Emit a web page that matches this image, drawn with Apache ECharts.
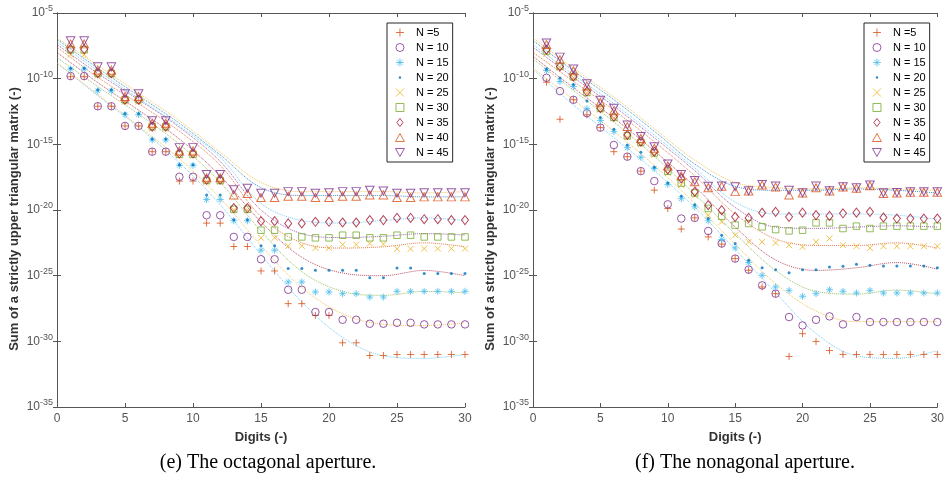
<!DOCTYPE html>
<html><head><meta charset="utf-8">
<script src="https://cdn.jsdelivr.net/npm/echarts@6/dist/echarts.min.js"></script>
<style>html,body{margin:0;padding:0;background:#fff}#c{width:947px;height:484px}</style>
</head><body><div id="c"></div>
<script>
// ---------------- data (values are log10 of the plotted quantity) ----------------
const digits = [1,2,3,4,5,6,7,8,9,10,11,12,13,14,15,16,17,18,19,20,21,22,23,24,25,26,27,28,29,30];
const fitX = [0,3,6,9,12,15,18,21,24,27,30];
const xTickStep = 5;
const yTickExponents = [-35,-30,-25,-20,-15,-10,-5];
const legendNames = ['N =5','N = 10','N = 15','N = 20','N = 25','N = 30','N = 35','N = 40','N = 45'];
const captions = ['(e) The octagonal aperture.','(f) The nonagonal aperture.'];
const yAxisTitle = 'Sum of a strictly upper triangular matrix (-)';
const xAxisTitle = 'Digits (-)';

// (e) octagonal aperture
const octN5  = [-9.85,-9.85,-12.1,-12.1,-13.6,-13.6,-15.56,-15.56,-17.8,-17.8,-21.0,-21.0,-22.78,-22.78,-24.64,-24.64,-27.13,-27.13,-28.03,-28.03,-30.11,-30.11,-31.08,-31.08,-31.0,-31.0,-31.0,-31.0,-31.0,-31.0];
const octN10 = [-9.8,-9.8,-12.1,-12.1,-13.6,-13.6,-15.56,-15.56,-17.47,-17.47,-20.4,-20.4,-22.05,-22.05,-23.75,-23.75,-26.07,-26.07,-27.77,-27.77,-28.36,-28.36,-28.66,-28.66,-28.59,-28.59,-28.71,-28.71,-28.71,-28.71];
const octN15 = [-9.27,-9.27,-10.93,-10.93,-12.74,-12.74,-14.67,-14.67,-16.6,-16.6,-19.2,-19.2,-20.82,-20.82,-23.06,-23.06,-25.48,-25.48,-26.24,-26.24,-26.37,-26.37,-26.63,-26.63,-26.19,-26.19,-26.19,-26.19,-26.19,-26.19];
const octN20 = [-9.2,-9.2,-10.85,-10.85,-12.65,-12.65,-14.6,-14.6,-16.55,-16.55,-18.85,-18.85,-20.75,-20.75,-22.73,-22.73,-24.46,-24.46,-24.59,-24.59,-24.59,-24.59,-25.15,-25.15,-24.41,-24.41,-24.84,-24.84,-24.84,-24.84];
const octN25 = [-8.18,-8.18,-9.75,-9.75,-11.75,-11.75,-13.8,-13.8,-15.85,-15.85,-17.85,-17.85,-20.0,-20.0,-22.12,-22.12,-22.73,-22.73,-22.89,-22.89,-22.63,-22.63,-22.55,-22.6,-22.96,-22.96,-22.94,-22.94,-22.94,-22.94];
const octN30 = [-7.8,-7.8,-9.6,-9.6,-11.6,-11.6,-13.65,-13.65,-15.75,-15.75,-17.75,-17.75,-19.95,-19.95,-21.54,-21.54,-22.05,-22.05,-22.12,-22.12,-21.92,-21.92,-22.12,-22.12,-21.92,-21.92,-22.05,-22.05,-22.05,-22.05];
const octN35 = [-7.75,-7.75,-9.58,-9.58,-11.6,-11.6,-13.65,-13.65,-15.7,-15.7,-17.7,-17.7,-19.85,-19.85,-20.85,-20.85,-21.02,-21.02,-20.9,-20.9,-20.95,-20.95,-20.77,-20.77,-20.6,-20.6,-20.7,-20.7,-20.77,-20.77];
const octN40 = [-7.35,-7.35,-9.35,-9.35,-11.35,-11.35,-13.4,-13.4,-15.5,-15.5,-17.55,-17.55,-18.85,-18.75,-19.05,-19.05,-18.95,-18.95,-19.05,-19.05,-18.95,-18.95,-18.85,-18.85,-19.05,-19.05,-19.0,-19.0,-19.0,-19.0];
const octN45 = [-7.12,-7.12,-9.1,-9.1,-11.15,-11.15,-13.2,-13.2,-15.25,-15.25,-17.3,-17.3,-18.45,-18.35,-18.72,-18.72,-18.6,-18.6,-18.72,-18.68,-18.6,-18.6,-18.5,-18.55,-18.72,-18.72,-18.68,-18.68,-18.68,-18.68];

const octFit5  = [-8.8,-11.3,-13.7,-16.4,-19.6,-23.4,-27.0,-29.7,-31.1,-31.3,-31.0];
const octFit10 = [-8.8,-11.2,-13.6,-16.1,-19.1,-22.7,-25.9,-27.9,-28.7,-28.8,-28.6];
const octFit15 = [-8.4,-10.6,-12.7,-15.0,-17.9,-21.6,-24.7,-26.2,-26.5,-26.2,-26.3];
const octFit20 = [-8.0,-10.3,-12.4,-14.6,-17.4,-20.9,-23.6,-24.8,-25.0,-24.6,-25.0];
const octFit25 = [-7.6,-9.9,-11.9,-14.0,-16.6,-20.5,-22.5,-22.9,-22.8,-22.5,-22.8];
const octFit30 = [-7.4,-9.6,-11.6,-13.7,-16.3,-20.0,-21.8,-22.1,-22.0,-21.8,-21.9];
const octFit35 = [-7.2,-9.4,-11.5,-13.6,-16.0,-19.5,-20.8,-21.0,-20.8,-20.6,-20.8];
const octFit40 = [-7.0,-9.2,-11.3,-13.4,-15.8,-18.3,-18.9,-18.9,-18.9,-19.0,-19.0];
const octFit45 = [-6.9,-9.0,-11.1,-13.2,-15.6,-17.9,-18.6,-18.6,-18.6,-18.7,-18.6];

// (f) nonagonal aperture
const nonN5  = [-10.27,-13.09,-11.6,-12.75,-13.73,-15.56,-15.94,-17.04,-18.49,-19.89,-21.45,-20.6,-22.05,-22.6,-23.7,-24.59,-25.86,-26.37,-31.15,-29.42,-30.01,-30.7,-31.0,-31.0,-31.0,-31.0,-31.0,-31.0,-31.0,-31.0];
const nonN10 = [-9.93,-10.95,-11.61,-12.63,-13.73,-15.05,-15.94,-17.04,-17.8,-19.57,-20.65,-20.6,-21.6,-22.55,-23.7,-24.54,-25.74,-26.37,-28.15,-28.79,-28.36,-28.1,-28.71,-28.15,-28.53,-28.53,-28.53,-28.53,-28.53,-28.53];
const nonN15 = [-9.38,-10.21,-10.6,-12.28,-13.19,-14.03,-15.25,-15.99,-16.85,-18.05,-19.14,-19.76,-20.82,-22.25,-22.89,-24.0,-24.97,-25.86,-26.12,-26.57,-26.37,-26.07,-26.19,-26.32,-26.12,-26.32,-26.32,-26.32,-26.32,-26.32];
const nonN20 = [-9.27,-9.95,-10.45,-11.7,-12.95,-13.85,-15.05,-15.6,-16.75,-17.95,-18.95,-19.6,-20.65,-21.92,-22.55,-23.83,-24.39,-24.54,-24.77,-24.54,-24.54,-24.34,-24.28,-24.13,-24.21,-24.26,-24.26,-24.26,-24.26,-24.39];
const nonN25 = [-8.1,-9.15,-9.95,-11.1,-12.35,-13.0,-14.45,-15.0,-15.8,-17.2,-18.1,-18.9,-20.39,-20.9,-21.92,-22.43,-22.43,-22.5,-22.68,-22.81,-22.43,-22.17,-22.68,-22.76,-22.89,-22.76,-22.76,-22.76,-22.76,-22.76];
const nonN30 = [-7.9,-9.05,-9.85,-11.05,-12.25,-12.95,-14.35,-14.85,-15.65,-17.05,-17.95,-18.7,-19.88,-20.47,-21.15,-21.03,-21.28,-21.49,-21.59,-21.54,-20.98,-20.98,-21.41,-21.23,-21.41,-21.23,-21.23,-21.23,-21.23,-21.23];
const nonN35 = [-7.8,-9.07,-9.83,-10.98,-12.25,-12.89,-14.29,-14.8,-15.56,-16.91,-17.6,-18.61,-19.63,-20.01,-20.52,-20.6,-20.21,-20.14,-20.52,-20.2,-20.39,-20.45,-20.25,-20.2,-20.14,-20.57,-20.65,-20.65,-20.65,-20.65];
const nonN40 = [-7.4,-8.55,-9.4,-10.55,-11.8,-12.45,-13.65,-14.55,-15.3,-16.65,-17.4,-17.85,-18.3,-18.2,-18.6,-18.55,-18.1,-18.25,-18.85,-18.7,-18.3,-18.55,-18.25,-18.35,-18.15,-18.75,-18.7,-18.65,-18.65,-18.65];
const nonN45 = [-7.29,-8.36,-9.27,-10.39,-11.64,-12.25,-13.52,-14.4,-15.18,-16.5,-17.3,-17.75,-18.2,-18.18,-18.23,-18.54,-18.05,-18.18,-18.5,-18.69,-18.18,-18.54,-18.23,-18.31,-18.1,-18.69,-18.66,-18.61,-18.61,-18.61];

const nonFit5  = [-9.3,-12.0,-14.5,-17.0,-19.8,-23.0,-26.3,-29.4,-31.1,-31.3,-30.7];
const nonFit10 = [-9.2,-11.6,-14.0,-16.6,-19.5,-22.6,-25.6,-27.7,-28.5,-28.5,-28.5];
const nonFit15 = [-8.5,-10.9,-13.3,-15.9,-18.8,-21.8,-24.6,-26.2,-26.4,-26.1,-26.4];
const nonFit20 = [-8.3,-10.7,-13.0,-15.5,-18.2,-21.3,-23.8,-24.6,-24.4,-24.0,-24.5];
const nonFit25 = [-8.0,-10.2,-12.4,-14.8,-17.4,-20.3,-22.2,-22.7,-22.7,-22.5,-22.9];
const nonFit30 = [-7.6,-9.9,-12.1,-14.5,-17.0,-19.8,-21.3,-21.4,-21.3,-21.2,-21.3];
const nonFit35 = [-7.4,-9.7,-11.9,-14.3,-16.8,-19.4,-20.3,-20.3,-20.3,-20.4,-20.7];
const nonFit40 = [-7.1,-9.4,-11.6,-14.0,-16.5,-18.2,-18.5,-18.5,-18.4,-18.5,-18.7];
const nonFit45 = [-6.9,-9.2,-11.4,-13.8,-16.2,-17.9,-18.3,-18.4,-18.3,-18.4,-18.5];

// ---------------- styling ----------------
const COL = {orange:'#D95319', purple:'#7E2F8E', lblue:'#4DBEEE', blue:'#0072BD', yellow:'#EDB120', green:'#77AC30', dred:'#A2142F'};
const PLUS = 'path://M5,0L5,10M0,5L10,5';
const XS = 'path://M0,0L10,10M10,0L0,10';
const AST = 'path://M5,0L5,10M0,5L10,5M1.6,1.6L8.4,8.4M8.4,1.6L1.6,8.4';
const TRIDOWN = 'path://M0,0L10,0L5,9Z';
const TRIUP = 'path://M5,0L10,9L0,9Z';
const SQUARE = 'path://M0,0L10,0L10,10L0,10Z';
const DIAMOND = 'path://M5,0L10,6.5L5,13L0,6.5Z';
const DOTICON = 'path://M0,0M10,10M4.2,4.2L5.8,4.2L5.8,5.8L4.2,5.8Z';
const markers = [
  {symbol: PLUS, size: 7, color: COL.orange},
  {symbol: 'circle', size: 7.5, color: COL.purple},
  {symbol: AST, size: 7, color: COL.lblue},
  {symbol: 'circle', size: 3, color: COL.blue, filled: true, icon: DOTICON},
  {symbol: XS, size: 6, color: COL.yellow},
  {symbol: SQUARE, size: 6.5, color: COL.green},
  {symbol: DIAMOND, size: [7, 9], color: COL.dred},
  {symbol: TRIUP, size: [8.5, 8], color: COL.orange},
  {symbol: TRIDOWN, size: [8.5, 8], color: COL.purple}
];
const fitColors = [COL.lblue, COL.yellow, COL.green, COL.dred, COL.orange, COL.purple, COL.lblue, COL.blue, COL.yellow];

const panels = [
  {data: [octN5,octN10,octN15,octN20,octN25,octN30,octN35,octN40,octN45],
   fits: [octFit5,octFit10,octFit15,octFit20,octFit25,octFit30,octFit35,octFit40,octFit45],
   left: 57, legendLeft: 387, captionX: 268},
  {data: [nonN5,nonN10,nonN15,nonN20,nonN25,nonN30,nonN35,nonN40,nonN45],
   fits: [nonFit5,nonFit10,nonFit15,nonFit20,nonFit25,nonFit30,nonFit35,nonFit40,nonFit45],
   left: 533, legendLeft: 864, captionX: 745}
];

const FONT = '"Liberation Sans", Arial, Helvetica, sans-serif';
const AX = '#555';
const grid = [], xAxis = [], yAxis = [], series = [], legend = [], graphic = [];

panels.forEach((p, pi) => {
  grid.push({left: p.left, top: 13, width: 408, height: 394, containLabel: false});
  const xb = {type: 'value', gridIndex: pi, min: 0, max: 30, interval: xTickStep,
    axisLine: {show: true, lineStyle: {color: AX, width: 1}},
    axisTick: {show: true, inside: true, length: 4, lineStyle: {color: AX}},
    splitLine: {show: false},
    axisLabel: {show: true, color: AX, fontSize: 12, fontFamily: FONT, margin: 6},
    name: xAxisTitle, nameLocation: 'middle', nameGap: 24,
    nameTextStyle: {fontWeight: 'bold', fontSize: 13, color: '#333', fontFamily: FONT}};
  const xt = {type: 'value', gridIndex: pi, position: 'top', min: 0, max: 30, interval: xTickStep,
    axisLine: {show: true, lineStyle: {color: AX, width: 1}},
    axisTick: {show: true, inside: true, length: 4, lineStyle: {color: AX}},
    splitLine: {show: false}, axisLabel: {show: false}};
  xAxis.push(xb, xt);
  const yMin = yTickExponents[0], yMax = yTickExponents[yTickExponents.length - 1];
  const yl = {type: 'value', gridIndex: pi, position: 'left', min: yMin, max: yMax, interval: 5,
    axisLine: {show: true, lineStyle: {color: AX, width: 1}},
    axisTick: {show: true, inside: true, length: 4, lineStyle: {color: AX}},
    splitLine: {show: false},
    axisLabel: {show: true, margin: 4, formatter: v => '{b|10}{e|' + v + '}',
      rich: {b: {fontSize: 12, color: AX, fontFamily: FONT},
             e: {fontSize: 9, color: AX, fontFamily: FONT, padding: [0, 0, 8, 0]}}},
    name: yAxisTitle, nameLocation: 'middle', nameGap: 36, nameRotate: 90,
    nameTextStyle: {fontWeight: 'bold', fontSize: 13, color: '#333', fontFamily: FONT, padding: [0, 18, 0, 0]}};
  const yr = {type: 'value', gridIndex: pi, position: 'right', min: yMin, max: yMax, interval: 5,
    axisLine: {show: true, lineStyle: {color: AX, width: 1}},
    axisTick: {show: true, inside: true, length: 4, lineStyle: {color: AX}},
    splitLine: {show: false}, axisLabel: {show: false}};
  yAxis.push(yl, yr);

  const xi = pi * 2, yi = pi * 2;
  p.fits.forEach((f, i) => {
    series.push({type: 'line', name: 'fit' + pi + '_' + i, xAxisIndex: xi, yAxisIndex: yi,
      data: fitX.map((x, k) => [x, f[k]]), smooth: 0.35, showSymbol: false, silent: true, z: 2,
      lineStyle: {type: 'dotted', width: 1, color: fitColors[i], opacity: 0.75}});
  });
  p.data.forEach((d, i) => {
    const m = markers[i];
    series.push({type: 'scatter', name: legendNames[i], xAxisIndex: xi, yAxisIndex: yi,
      data: digits.map((x, k) => [x, d[k]]), symbol: m.symbol, symbolSize: m.size, z: 3,
      itemStyle: m.filled ? {color: m.color, borderColor: m.color, borderWidth: 0}
                          : {color: 'rgba(0,0,0,0)', borderColor: m.color, borderWidth: 1},
      emphasis: {disabled: true}});
  });
  legend.push({orient: 'vertical', left: p.legendLeft, top: 23, selectedMode: false,
    padding: [4, 4, 4, 8], itemWidth: 22, itemHeight: 8, itemGap: 4, symbolKeepAspect: true,
    backgroundColor: '#fff', borderColor: '#262626', borderWidth: 1,
    itemStyle: {borderWidth: 1},
    textStyle: {fontSize: 11, color: '#000', fontFamily: FONT},
    data: legendNames.map((n, i) => ({name: n, icon: markers[i].icon || markers[i].symbol}))});
  graphic.push({type: 'text', x: p.captionX, y: 463, silent: true,
    style: {text: captions[pi], font: '20px "Liberation Serif", "Times New Roman", serif', fill: '#000',
      align: 'center', verticalAlign: 'middle', textAlign: 'center', textVerticalAlign: 'middle'}});
});

const chart = echarts.init(document.getElementById('c'), null, {renderer: 'canvas'});
chart.setOption({animation: false, backgroundColor: '#fff', grid, xAxis, yAxis, series, legend, graphic});
</script></body></html>
